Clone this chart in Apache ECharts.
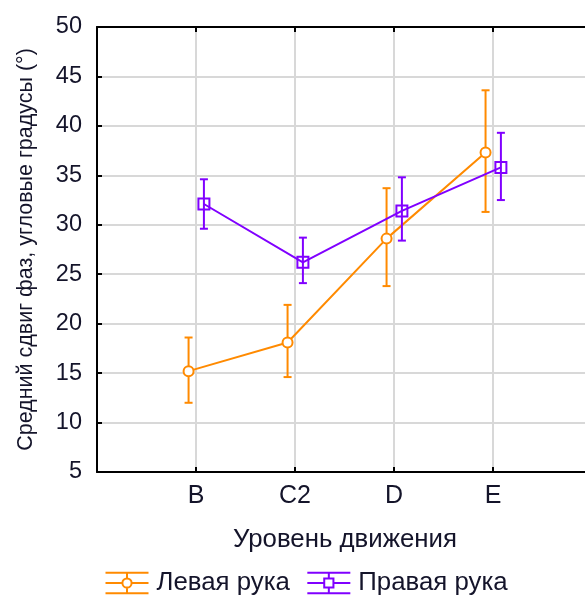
<!DOCTYPE html>
<html>
<head>
<meta charset="utf-8">
<script src="https://cdn.jsdelivr.net/npm/echarts@6/dist/echarts.min.js"></script>
<style>
  html, body { margin: 0; padding: 0; background: #fff; overflow: hidden; }
  #chart { width: 585px; height: 595px; }
</style>
</head>
<body>
<div id="chart"></div>
<script>
// Movement levels on the horizontal axis
const levels = ['B', 'C2', 'D', 'E'];

// Left hand: mean phase shift and its error-bar bounds (degrees)
const leftMean = [15.2, 18.1, 28.6, 37.3];
const leftLow  = [12.0, 14.6, 23.8, 31.3];
const leftHigh = [18.6, 21.9, 33.7, 43.6];

// Right hand: mean phase shift and its error-bar bounds (degrees)
const rightMean = [32.1, 26.2, 31.4, 35.8];
const rightLow  = [29.6, 24.1, 28.4, 32.5];
const rightHigh = [34.6, 28.7, 34.8, 39.3];

// Value axis range
const yMin = 5, yMax = 50, yStep = 5;

const seriesNames = ['Левая рука', 'Правая рука'];
const colors = ['#ff8a00', '#8000ff'];
const font = "'Liberation Sans', Arial, sans-serif";
const textColor = '#14142a';

// Each group is nudged sideways so the error bars don't overlap
const dodge = [-0.075, 0.08];

function points(means, k) {
  return means.map((v, i) => [i + 1 + dodge[k], v]);
}
function bars(lows, highs, k) {
  return lows.map((lo, i) => [i + 1 + dodge[k], lo, highs[i]]);
}

function errorBar(color) {
  return function (params, api) {
    const x = api.value(0);
    const lo = api.coord([x, api.value(1)]);
    const hi = api.coord([x, api.value(2)]);
    const cap = 4;
    const style = { stroke: color, lineWidth: 2, fill: null };
    return {
      type: 'group',
      children: [
        { type: 'line', shape: { x1: lo[0], y1: lo[1], x2: hi[0], y2: hi[1] }, style },
        { type: 'line', shape: { x1: lo[0] - cap, y1: lo[1], x2: lo[0] + cap, y2: lo[1] }, style },
        { type: 'line', shape: { x1: hi[0] - cap, y1: hi[1], x2: hi[0] + cap, y2: hi[1] }, style }
      ]
    };
  };
}

// Legend glyphs: line with error caps and the marker in the middle
const iconCircle = 'path://M0 1H42M0 21H42M0 11H16.5M25.5 11H42M21 1V6.5M21 15.5V21M25.5 11A4.5 4.5 0 1 1 16.5 11A4.5 4.5 0 1 1 25.5 11Z';
const iconSquare = 'path://M0 1H42M0 21H42M0 11H16.5M25.5 11H42M21 1V6.5M21 15.5V21M16.5 6.5H25.5V15.5H16.5Z';

const chart = echarts.init(document.getElementById('chart'), null, { renderer: 'canvas' });

// The frame runs past the right edge of the canvas
const xAxisBase = {
  type: 'value',
  min: 0,
  max: 4.97,
  interval: 1,
  axisLine: { show: true, onZero: false, lineStyle: { color: '#000', width: 2 } },
  axisTick: { show: true, inside: true, length: 5, lineStyle: { color: '#000', width: 2 } },
  splitLine: { show: false }
};

chart.setOption({
  animation: false,
  backgroundColor: '#fff',
  textStyle: { fontFamily: font },
  grid: { left: 97, right: -4, top: 27, bottom: 123, outerBoundsMode: 'none' },
  legend: {
    left: 103,
    top: 570,
    padding: 0,
    itemWidth: 43,
    itemHeight: 23,
    itemGap: 15,
    textStyle: { fontFamily: font, fontSize: 25.8, color: textColor, padding: [0, 0, 0, 3] },
    data: [
      { name: seriesNames[0], icon: iconCircle,
        itemStyle: { color: 'none', borderColor: colors[0], borderWidth: 2 } },
      { name: seriesNames[1], icon: iconSquare,
        itemStyle: { color: 'none', borderColor: colors[1], borderWidth: 2 } }
    ]
  },
  xAxis: [
    Object.assign({}, xAxisBase, {
      position: 'bottom',
      name: 'Уровень движения',
      nameLocation: 'middle',
      nameGap: 55,
      nameTextStyle: { fontFamily: font, fontSize: 25.8, color: textColor, padding: [0, 0, 0, 4] },
      axisLabel: {
        show: true,
        fontFamily: font,
        fontSize: 25,
        color: textColor,
        margin: 12,
        formatter: v => (v >= 1 && v <= levels.length && Number.isInteger(v) ? levels[v - 1] : '')
      },
      splitLine: { show: true, showMaxLine: false, lineStyle: { color: '#d8d8d8', width: 2 } }
    }),
    Object.assign({}, xAxisBase, {
      position: 'top',
      axisLabel: { show: false }
    })
  ],
  yAxis: {
    type: 'value',
    min: yMin,
    max: yMax,
    interval: yStep,
    name: 'Средний сдвиг фаз, угловые градусы (°)',
    nameLocation: 'middle',
    nameGap: 60,
    nameTextStyle: { fontFamily: font, fontSize: 21.5, color: textColor },
    axisLine: { show: true, onZero: false, lineStyle: { color: '#000', width: 2 } },
    axisTick: { show: true, inside: true, length: 5, lineStyle: { color: '#000', width: 2 } },
    axisLabel: { fontFamily: font, fontSize: 23.5, color: textColor, margin: 15 },
    splitLine: { show: true, lineStyle: { color: '#d8d8d8', width: 2 } }
  },
  series: [
    {
      name: seriesNames[0] + ' err',
      type: 'custom',
      renderItem: errorBar(colors[0]),
      data: bars(leftLow, leftHigh, 0),
      z: 3,
      silent: true
    },
    {
      name: seriesNames[0],
      type: 'line',
      data: points(leftMean, 0),
      symbol: 'circle',
      symbolSize: 10,
      itemStyle: { color: '#fff', borderColor: colors[0], borderWidth: 2 },
      lineStyle: { color: colors[0], width: 2 },
      z: 4
    },
    {
      name: seriesNames[1] + ' err',
      type: 'custom',
      renderItem: errorBar(colors[1]),
      data: bars(rightLow, rightHigh, 1),
      z: 5,
      silent: true
    },
    {
      name: seriesNames[1],
      type: 'line',
      data: points(rightMean, 1),
      symbol: 'rect',
      symbolSize: 11,
      itemStyle: { color: 'rgba(255,255,255,0)', borderColor: colors[1], borderWidth: 2 },
      lineStyle: { color: colors[1], width: 2 },
      z: 6
    }
  ]
});
</script>
</body>
</html>
